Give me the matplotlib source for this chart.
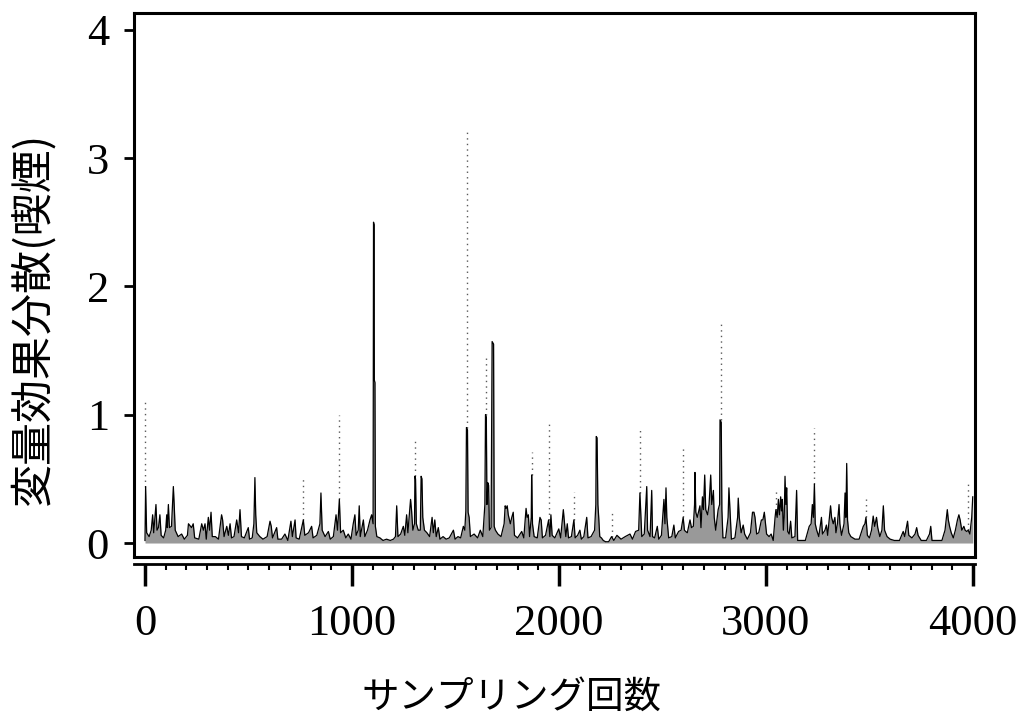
import numpy as np
import matplotlib
matplotlib.use("Agg")
import matplotlib.pyplot as plt
from matplotlib.ticker import MultipleLocator

# trace points (sampling iteration, variance), by 1000-block
iter_0 = [0, 3, 8, 20, 30, 37, 42, 53, 58, 65, 72, 78, 90, 100, 105, 108, 113, 118, 128, 137,
          141, 146, 160, 177, 190, 205, 210, 225, 233, 240, 260, 274, 282, 290, 296, 306, 312,
          319, 325, 340, 355, 370, 375, 382, 395, 403, 411, 418, 430, 443, 452, 459, 466, 480,
          499, 505, 518, 526, 531, 535, 540, 555, 570, 590, 604, 610, 616, 636, 642, 660, 676,
          690, 705, 712, 725, 730, 745, 765, 772, 790, 805, 812, 830, 845, 850, 856, 870, 886,
          895, 910, 923, 930, 939, 945, 958, 970, 982, 995]
val_0 = [0.02, 0.44, 0.08, 0.05, 0.1, 0.22, 0.08, 0.3, 0.1, 0.12, 0.22, 0.06, 0.04, 0.1, 0.22,
         0.12, 0.3, 0.12, 0.13, 0.44, 0.3, 0.1, 0.05, 0.07, 0.03, 0.06, 0.15, 0.12, 0.15, 0.04,
         0.03, 0.15, 0.1, 0.15, 0.03, 0.2, 0.1, 0.24, 0.05, 0.05, 0.03, 0.22, 0.18, 0.05, 0.13,
         0.06, 0.15, 0.04, 0.05, 0.18, 0.08, 0.26, 0.05, 0.04, 0.12, 0.03, 0.04, 0.15, 0.51,
         0.22, 0.08, 0.05, 0.03, 0.05, 0.17, 0.13, 0.04, 0.12, 0.03, 0.03, 0.07, 0.02, 0.17,
         0.05, 0.18, 0.04, 0.03, 0.18, 0.06, 0.08, 0.13, 0.04, 0.06, 0.15, 0.39, 0.1, 0.05,
         0.09, 0.03, 0.05, 0.22, 0.1, 0.34, 0.08, 0.1, 0.04, 0.07, 0.03]

iter_1 = [1006, 1014, 1020, 1030, 1035, 1040, 1055, 1062, 1075, 1087, 1095, 1102, 1104, 1107,
          1108, 1111, 1113, 1120, 1135, 1150, 1167, 1185, 1200, 1210, 1216, 1222, 1235, 1248,
          1255, 1264, 1270, 1283, 1288, 1294, 1302, 1304, 1307, 1311, 1320, 1330, 1334, 1338,
          1342, 1350, 1362, 1375, 1387, 1393, 1400, 1407, 1417, 1425, 1440, 1455, 1470, 1490,
          1498, 1512, 1525, 1538, 1545, 1550, 1553, 1558, 1561, 1566, 1572, 1590, 1607, 1620,
          1632, 1642, 1645, 1649, 1652, 1656, 1660, 1664, 1672, 1677, 1684, 1687, 1693, 1705,
          1720, 1735, 1740, 1745, 1750, 1755, 1765, 1772, 1779, 1785, 1800, 1820, 1830, 1841,
          1846, 1852, 1858, 1866, 1868, 1872, 1880, 1895, 1908, 1914, 1920, 1935, 1950, 1956,
          1961, 1967, 1980, 1999]
val_1 = [0.15, 0.22, 0.06, 0.1, 0.29, 0.05, 0.18, 0.05, 0.1, 0.18, 0.22, 0.15, 2.5, 2.48,
         1.27, 1.25, 0.13, 0.05, 0.04, 0.02, 0.03, 0.02, 0.03, 0.05, 0.29, 0.05, 0.07, 0.13,
         0.06, 0.22, 0.08, 0.34, 0.25, 0.1, 0.15, 0.52, 0.5, 0.15, 0.1, 0.1, 0.52, 0.5, 0.2,
         0.1, 0.08, 0.05, 0.2, 0.08, 0.18, 0.05, 0.12, 0.03, 0.05, 0.03, 0.04, 0.1, 0.03, 0.05,
         0.04, 0.13, 0.1, 0.25, 0.9, 0.88, 0.24, 0.2, 0.05, 0.07, 0.04, 0.1, 0.05, 0.3, 1.0,
         0.98, 0.3, 0.47, 0.45, 0.1, 0.12, 1.57, 1.55, 0.13, 0.1, 0.07, 0.05, 0.15, 0.29, 0.27,
         0.29, 0.22, 0.15, 0.2, 0.24, 0.06, 0.04, 0.09, 0.04, 0.27, 0.2, 0.22, 0.05, 0.2, 0.53,
         0.15, 0.05, 0.04, 0.2, 0.18, 0.04, 0.06, 0.18, 0.05, 0.22, 0.06, 0.04, 0.11]

iter_2 = [2008, 2021, 2027, 2033, 2040, 2046, 2060, 2072, 2078, 2090, 2101, 2108, 2120, 2134,
          2140, 2155, 2172, 2178, 2180, 2184, 2188, 2192, 2197, 2205, 2214, 2225, 2240, 2254,
          2265, 2280, 2300, 2320, 2343, 2355, 2370, 2385, 2391, 2395, 2400, 2412, 2424, 2428,
          2440, 2448, 2452, 2462, 2475, 2482, 2495, 2507, 2512, 2517, 2521, 2530, 2545, 2555,
          2562, 2578, 2590, 2600, 2606, 2612, 2620, 2633, 2640, 2649, 2655, 2657, 2661, 2668,
          2681, 2686, 2693, 2698, 2704, 2709, 2718, 2725, 2733, 2738, 2746, 2750, 2757, 2769,
          2776, 2778, 2784, 2787, 2792, 2805, 2817, 2821, 2826, 2833, 2850, 2863, 2866, 2871,
          2880, 2890, 2897, 2910, 2925, 2935, 2942, 2947, 2955, 2965, 2978, 2985, 2992, 3003]
val_2 = [0.04, 0.26, 0.15, 0.05, 0.15, 0.04, 0.05, 0.18, 0.04, 0.06, 0.1, 0.03, 0.05, 0.2,
         0.04, 0.05, 0.1, 0.3, 0.83, 0.82, 0.3, 0.2, 0.05, 0.04, 0.02, 0.01, 0.01, 0.05, 0.02,
         0.06, 0.03, 0.05, 0.07, 0.03, 0.09, 0.1, 0.39, 0.24, 0.05, 0.07, 0.44, 0.1, 0.05, 0.41,
         0.05, 0.04, 0.13, 0.03, 0.06, 0.34, 0.15, 0.43, 0.2, 0.04, 0.05, 0.14, 0.04, 0.09, 0.1,
         0.2, 0.1, 0.09, 0.08, 0.18, 0.12, 0.13, 0.3, 0.55, 0.24, 0.2, 0.29, 0.12, 0.36, 0.26,
         0.53, 0.26, 0.22, 0.3, 0.53, 0.3, 0.41, 0.2, 0.1, 0.26, 0.3, 0.96, 0.94, 0.26, 0.04,
         0.04, 0.2, 0.43, 0.26, 0.03, 0.04, 0.2, 0.35, 0.2, 0.08, 0.14, 0.07, 0.03, 0.08, 0.24,
         0.24, 0.2, 0.07, 0.08, 0.18, 0.18, 0.24, 0.07]

iter_3 = [3015, 3025, 3035, 3044, 3048, 3054, 3060, 3065, 3071, 3075, 3079, 3084, 3088, 3092,
          3096, 3100, 3105, 3112, 3119, 3125, 3140, 3148, 3153, 3170, 3190, 3209, 3218, 3224,
          3229, 3234, 3238, 3245, 3255, 3268, 3273, 3285, 3292, 3298, 3312, 3317, 3325, 3333,
          3338, 3345, 3353, 3357, 3365, 3377, 3382, 3386, 3390, 3394, 3400, 3410, 3430, 3450,
          3470, 3478, 3483, 3490, 3500, 3510, 3518, 3525, 3534, 3540, 3550, 3560, 3567, 3573,
          3585, 3600, 3620, 3645, 3663, 3670, 3684, 3690, 3705, 3720, 3728, 3735, 3750, 3775,
          3790, 3796, 3802, 3825, 3850, 3865, 3872, 3876, 3881, 3887, 3895, 3905, 3915, 3925,
          3932, 3938, 3946, 3956, 3962, 3970, 3977, 3985, 3994, 3999]
val_3 = [0.05, 0.07, 0.02, 0.2, 0.26, 0.2, 0.34, 0.22, 0.36, 0.25, 0.34, 0.1, 0.2, 0.52, 0.3,
         0.43, 0.09, 0.07, 0.17, 0.04, 0.05, 0.41, 0.02, 0.02, 0.02, 0.13, 0.15, 0.3, 0.2, 0.46,
         0.15, 0.1, 0.05, 0.2, 0.07, 0.1, 0.14, 0.06, 0.29, 0.2, 0.15, 0.2, 0.08, 0.15, 0.3,
         0.15, 0.06, 0.15, 0.39, 0.2, 0.62, 0.18, 0.08, 0.05, 0.03, 0.03, 0.13, 0.15, 0.2, 0.06,
         0.04, 0.1, 0.21, 0.13, 0.2, 0.12, 0.05, 0.1, 0.29, 0.1, 0.05, 0.03, 0.02, 0.02, 0.09,
         0.05, 0.17, 0.06, 0.04, 0.07, 0.12, 0.06, 0.02, 0.02, 0.07, 0.13, 0.02, 0.02, 0.02,
         0.1, 0.2, 0.26, 0.18, 0.13, 0.08, 0.04, 0.1, 0.18, 0.22, 0.18, 0.1, 0.13, 0.1, 0.09,
         0.1, 0.07, 0.2, 0.36]

# single-draw excursions that print as faint dotted strokes
faint_iter = [2, 765, 939, 1304, 1555, 1646, 1868, 1950, 2072, 2254, 2391, 2600, 2781, 3048,
              3234, 3483, 3977]
faint_base = [0.44, 0.18, 0.34, 0.52, 0.9, 1.0, 0.53, 0.18, 0.18, 0.05, 0.39, 0.2, 0.96, 0.26,
              0.46, 0.2, 0.1]
faint_top = [1.12, 0.5, 1.0, 0.8, 3.2, 1.44, 0.71, 0.96, 0.4, 0.24, 0.88, 0.75, 1.72, 0.43,
             0.9, 0.34, 0.48]

x_ticks = [0, 1000, 2000, 3000, 4000]
y_ticks = [0, 1, 2, 3, 4]


def main():
    it = np.array(iter_0 + iter_1 + iter_2 + iter_3)
    val = np.array(val_0 + val_1 + val_2 + val_3)

    fig = plt.figure(figsize=(10.27, 7.19), dpi=100)
    ax = fig.add_axes([0.1305, 0.2253, 0.8189, 0.7566])

    ax.vlines(faint_iter, faint_base, faint_top, colors='0.35', linewidth=1.0,
              linestyles=(0, (1, 3)))
    ax.fill_between(it, 0, val, color='0.6', linewidth=0)
    ax.plot(it, val, color='black', linewidth=0.9)

    ax.set_xlim(-53, 4010)
    ax.set_ylim(-0.109, 4.13)

    for s in ax.spines.values():
        s.set_linewidth(2.2)

    ax.tick_params(axis='x', bottom=False, labelbottom=False)
    ax.set_yticks(y_ticks)
    ax.tick_params(axis='y', direction='out', length=7, width=2, pad=11,
                   labelsize=32)
    for lab in ax.get_yticklabels():
        lab.set_fontfamily('Liberation Serif')

    # tick axis sits just under the frame, detached from it
    sec = ax.secondary_xaxis(-0.012)
    sec.set_xticks(x_ticks)
    sec.xaxis.set_minor_locator(MultipleLocator(100))
    sec.spines['bottom'].set_linewidth(2)
    sec.tick_params(axis='x', which='major', direction='out', length=16, width=2.5,
                    pad=13, labelsize=32)
    sec.tick_params(axis='x', which='minor', direction='out', length=4.5, width=1.5)
    for lab in sec.get_xticklabels():
        lab.set_fontfamily('Liberation Serif')

    fig.text(511 / 1027, 1 - 697 / 719, 'サンプリング回数', ha='center', va='center',
             fontsize=27, family=['Noto Sans CJK JP', 'DejaVu Sans'])
    fig.text(33 / 1027, 1 - 319 / 719, '変量効果分散(喫煙)', ha='center', va='center',
             rotation=90, fontsize=31, family=['Noto Sans CJK JP', 'DejaVu Sans'])

    fig.savefig('out.png', dpi=100)


if __name__ == "__main__":
    main()
